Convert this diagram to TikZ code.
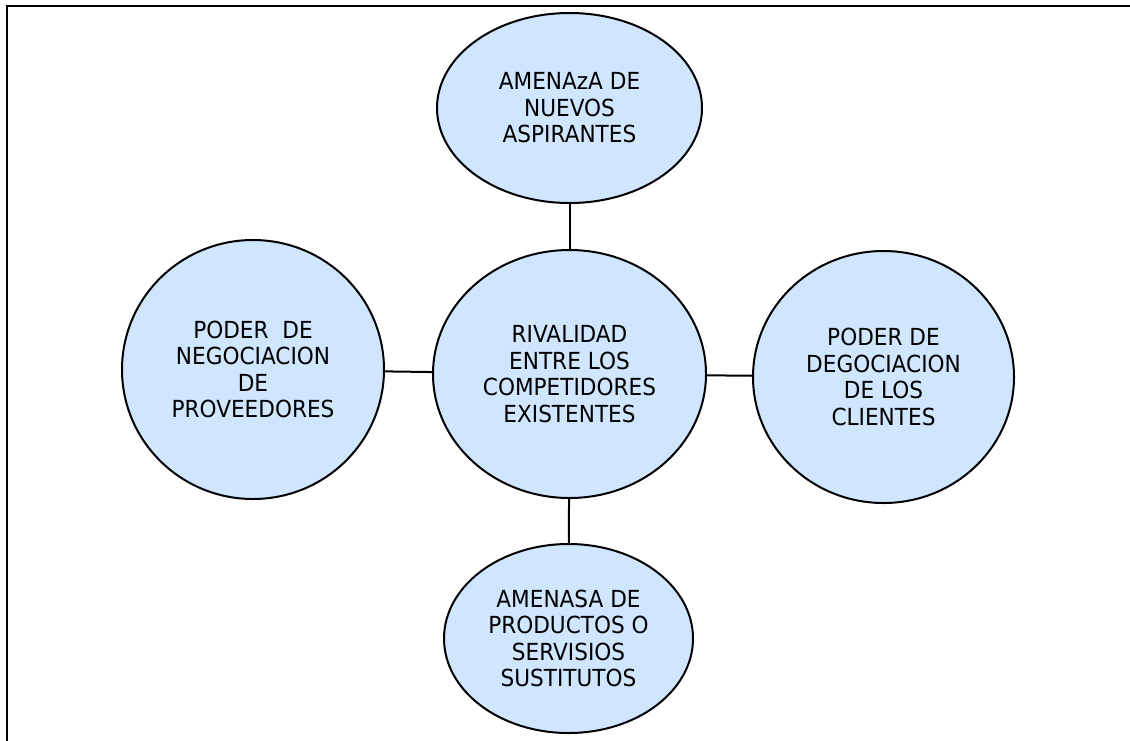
\documentclass[tikz,border=0pt]{standalone}
\usepackage{fontspec}
\setmainfont{DejaVu Sans}[FakeStretch=0.92]
\usetikzlibrary{shapes.geometric}
\definecolor{bubble}{RGB}{208,230,255}
\tikzset{
  bub/.style={ellipse, draw=black, line width=2pt, fill=bubble, inner sep=0pt,
    align=center, font=\fontsize{23.5}{26.5}\selectfont},
  link/.style={draw=black, line width=2pt}
}
\begin{document}
\begin{tikzpicture}[x=1pt,y=-1pt]
\useasboundingbox (0,0) rectangle (1130,740);
\fill[white] (0,0) rectangle (1130,740);
\draw[line width=2pt] (6.5,741) -- (6.5,5.5) -- (1131,5.5);
\node[bub, minimum width=265pt, minimum height=190pt] (top) at (569.5,108) {AMENAzA DE\\NUEVOS\\ASPIRANTES};
\node[bub, minimum width=273pt, minimum height=248pt] (mid) at (569.5,374) {RIVALIDAD\\ENTRE LOS\\COMPETIDORES\\EXISTENTES};
\node[bub, minimum width=249pt, minimum height=189pt] (bot) at (568.5,638.5) {AMENASA DE\\PRODUCTOS O\\SERVISIOS\\SUSTITUTOS};
\node[bub, minimum width=261pt, minimum height=252pt] (rgt) at (883.5,377) {PODER DE\\DEGOCIACION\\DE LOS\\CLIENTES};
\node[bub, minimum width=262pt, minimum height=259pt] (lft) at (253,369.5) {PODER~~DE\\NEGOCIACION\\DE\\PROVEEDORES};
\draw[link] (top) -- (mid);
\draw[link] (mid) -- (bot);
\draw[link] (lft) -- (mid);
\draw[link] (mid) -- (rgt);
\end{tikzpicture}
\end{document}
